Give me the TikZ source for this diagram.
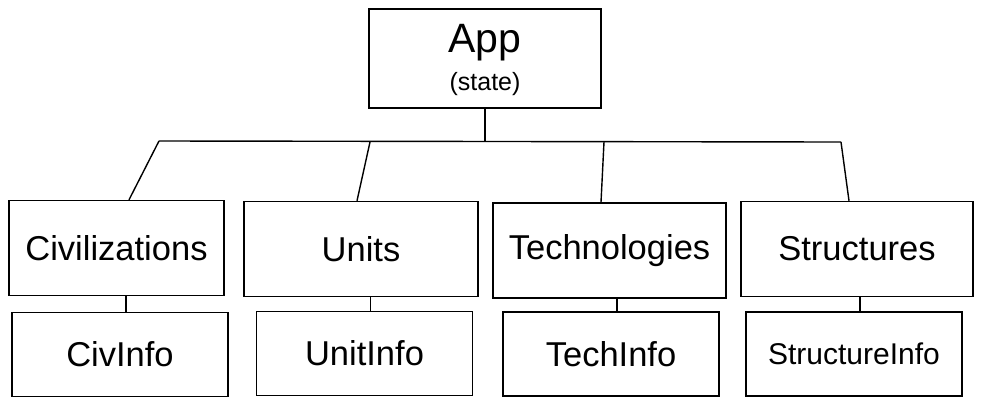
\documentclass[tikz,border=0pt]{standalone}
\usepackage{fontspec}
\setmainfont{Liberation Sans}
\usetikzlibrary{calc}

\begin{document}
\begin{tikzpicture}[x=1pt,y=-1pt,line width=1.4pt,
    box/.style={draw,minimum width=233pt,minimum height=95pt,inner sep=0pt,
      font=\fontsize{34.5}{38}\selectfont},
    info/.style={box,minimum width=216pt,minimum height=84pt}]
  \useasboundingbox (0,0) rectangle (983,405);

  %% The root and its state
  \node[box,minimum width=232pt,minimum height=99pt] (app) at (485,58.5) {};
  \node[anchor=base,font=\fontsize{41}{44}\selectfont] (apptitle) at (485,52) {App};
  \node[anchor=base,font=\fontsize{25}{28}\selectfont] (appstate) at (485,90) {(state)};

  %% The four pages and their info boxes
  \foreach \nm/\txt/\x/\y/\w in {civ/Civilizations/116.5/248/215,
                                 unit/Units/361/249/234,
                                 tech/Technologies/609.5/250.5/233,
                                 struct/Structures/857/249/232}
  {
    \node[box,minimum width=\w pt] (\nm) at (\x,\y) {\txt};
  }
  \foreach \nm/\txt/\x/\y in {civinfo/CivInfo/120/354.5,
                              unitinfo/UnitInfo/364.5/353.5,
                              techinfo/TechInfo/611/354}
  {
    \node[info] (\nm) at (\x,\y) {\txt};
  }
  \node[info,font=\fontsize{30}{33}\selectfont] (structinfo) at (854,354) {StructureInfo};

  %% Bus below the root
  \coordinate (bus-civ) at (159,141);
  \coordinate (bus-unit) at (370,142);
  \coordinate (bus-tech) at (604,142);
  \coordinate (bus-struct) at (841,142);
  \draw (app.south) -- (app.south |- bus-civ);
  \draw (bus-civ) -- (bus-struct);
  \foreach \nm/\dx in {civ/12.5,unit/-4,tech/-8.5,struct/-8}
  {
    \draw (bus-\nm) -- ([xshift=\dx pt]\nm.north);
  }

  %% Page to info
  \foreach \nm in {civ,unit,tech,struct}
  {
    \draw ([xshift=6pt]\nm info.north |- \nm.south) -- ([xshift=6pt]\nm info.north);
  }
\end{tikzpicture}
\end{document}
